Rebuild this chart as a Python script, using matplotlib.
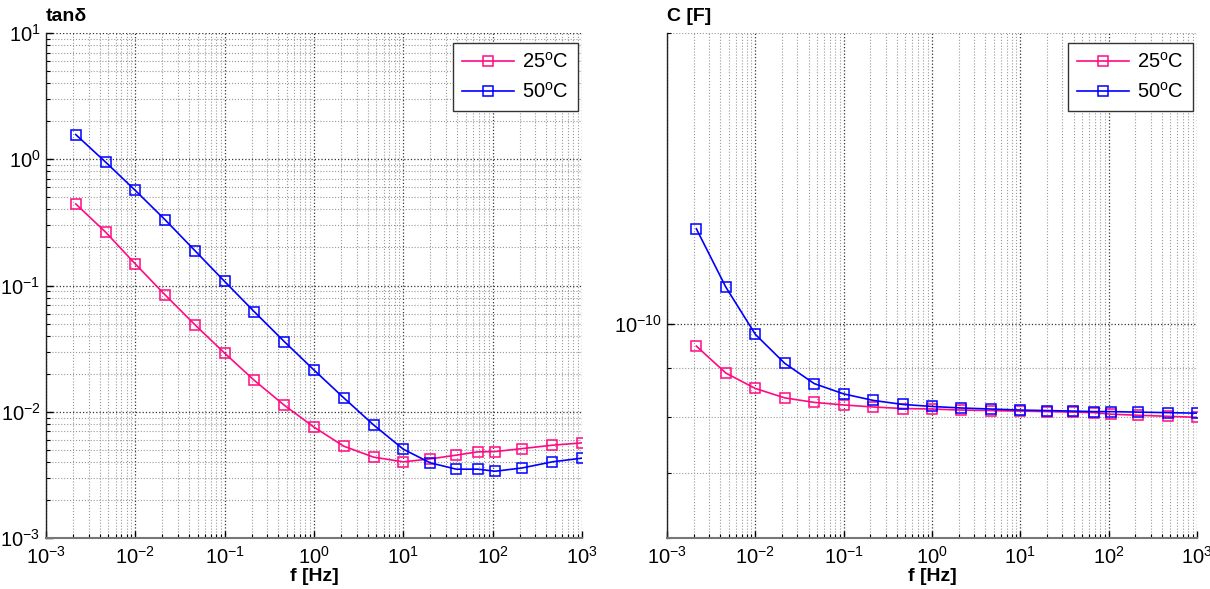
import matplotlib
matplotlib.use('Agg')
import matplotlib.pyplot as plt
import numpy as np
from matplotlib.ticker import LogLocator, NullFormatter

plt.rcParams['font.family'] = ['Liberation Sans', 'DejaVu Sans']
plt.rcParams['mathtext.fontset'] = 'custom'
plt.rcParams['mathtext.rm'] = 'Liberation Sans'
plt.rcParams['mathtext.bf'] = 'Liberation Sans:bold'

# frecuencias de medida [Hz]
freq = [0.00215, 0.00464, 0.01, 0.0215, 0.0464, 0.1, 0.215, 0.464, 1.0, 2.15,
        4.64, 10.0, 20.0, 39.0, 68.0, 107.0, 215.0, 464.0, 1000.0]

# tan delta
tan_25 = [0.443, 0.265, 0.148, 0.0844, 0.0489, 0.0291, 0.0177, 0.01128, 0.00755,
          0.00534, 0.00437, 0.00401, 0.00423, 0.00453, 0.00481, 0.00484, 0.00511,
          0.00543, 0.00567]
tan_50 = [1.57, 0.95, 0.566, 0.332, 0.189, 0.1076, 0.0619, 0.036, 0.0214, 0.0129,
          0.00787, 0.00505, 0.00394, 0.00351, 0.00351, 0.00338, 0.00359, 0.00401,
          0.00429]

# capacidad [F]
cap_25 = [9.48e-11, 8.89e-11, 8.57e-11, 8.38e-11, 8.29e-11, 8.24e-11, 8.20e-11,
          8.17e-11, 8.16e-11, 8.14e-11, 8.13e-11, 8.12e-11, 8.11e-11, 8.10e-11,
          8.09e-11, 8.06e-11, 8.04e-11, 8.02e-11, 8.00e-11]
cap_50 = [1.254e-10, 1.091e-10, 9.75e-11, 9.10e-11, 8.67e-11, 8.46e-11, 8.33e-11,
          8.25e-11, 8.21e-11, 8.18e-11, 8.16e-11, 8.14e-11, 8.13e-11, 8.12e-11,
          8.11e-11, 8.11e-11, 8.10e-11, 8.09e-11, 8.08e-11]

labels = [r'25$^{\mathrm{o}}$C', r'50$^{\mathrm{o}}$C']
pink = '#ff0a82'
blue = '#0000ff'

fig = plt.figure(figsize=(12.1, 5.89), dpi=100)
ax1 = fig.add_axes([46/1210, 1-538/589, 536/1210, 505/589])
ax2 = fig.add_axes([667/1210, 1-538/589, 530/1210, 505/589])


def estilo(ax, ylab):
    ax.set_xscale('log')
    ax.set_yscale('log')
    ax.set_xlim(1e-3, 1e3)
    ax.xaxis.set_major_locator(LogLocator(base=10, numticks=10))
    ax.xaxis.set_minor_locator(LogLocator(base=10, subs=np.arange(2, 10), numticks=20))
    ax.xaxis.set_minor_formatter(NullFormatter())
    ax.yaxis.set_minor_formatter(NullFormatter())
    ax.grid(True, which='major', ls=':', color='#333333', lw=0.9)
    ax.grid(True, which='minor', ls=':', color='#999999', lw=0.8)
    ax.set_axisbelow(True)
    for s in ['top', 'right']:
        ax.spines[s].set_visible(False)
    ax.spines['bottom'].set_color('#777777')
    ax.spines['bottom'].set_linewidth(1.5)
    ax.spines['left'].set_color('#222222')
    ax.spines['left'].set_linewidth(1.0)
    ax.tick_params(which='major', direction='in', length=5, width=1, labelsize=14.5, pad=4)
    ax.tick_params(which='minor', direction='in', length=3, width=0.8)
    ax.tick_params(axis='x', pad=6)
    ax.set_xlabel('f [Hz]', fontsize=14, fontweight='bold', labelpad=0)
    ax.text(0, 1.015, ylab, transform=ax.transAxes, fontsize=14, fontweight='bold',
            ha='left', va='bottom')


estilo(ax1, 'tanδ')
ax1.set_ylim(1e-3, 1e1)
ax1.yaxis.set_major_locator(LogLocator(base=10, numticks=10))
ax1.yaxis.set_minor_locator(LogLocator(base=10, subs=np.arange(2, 10), numticks=20))
ax1.plot(freq, tan_25, '-s', color=pink, mfc='none', ms=7, mew=1.1, lw=1.2, label=labels[0])
ax1.plot(freq, tan_50, '-s', color=blue, mfc='none', ms=7, mew=1.1, lw=1.2, label=labels[1])

estilo(ax2, 'C [F]')
ax2.set_ylim(6e-11, 2e-10)
ax2.yaxis.set_major_locator(LogLocator(base=10, numticks=10))
ax2.yaxis.set_minor_locator(LogLocator(base=10, subs=np.arange(2, 10), numticks=20))
ax2.plot(freq, cap_25, '-s', color=pink, mfc='none', ms=7, mew=1.1, lw=1.2, label=labels[0])
ax2.plot(freq, cap_50, '-s', color=blue, mfc='none', ms=7, mew=1.1, lw=1.2, label=labels[1])

for ax in [ax1, ax2]:
    leg = ax.legend(loc='upper right', bbox_to_anchor=(0.992, 0.981), borderaxespad=0,
                    fontsize=14.5, handlelength=2.6, labelspacing=0.5, fancybox=False,
                    framealpha=1, edgecolor='#333333', borderpad=0.45, handletextpad=0.4)
    leg.get_frame().set_linewidth(1.0)

fig.savefig('out.png', dpi=100)
